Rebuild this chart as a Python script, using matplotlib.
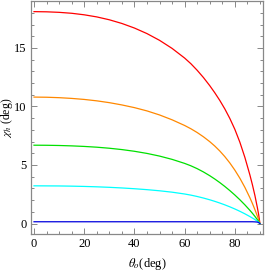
import numpy as np
import matplotlib
matplotlib.use('Agg')
import matplotlib.pyplot as plt
from matplotlib.ticker import MultipleLocator

# valores (theta_o em graus -> chi_h em graus)
theta = [0, 5, 10, 15, 20, 25, 30, 35, 40, 45, 50, 55, 60, 62.5, 65, 67.5, 70,
         72, 74, 76, 78, 80, 82, 84, 86, 87, 88, 89, 89.5, 90]

chi_red = [18.10, 18.085, 18.04, 17.96, 17.83, 17.65, 17.405, 17.09, 16.70, 16.225,
           15.65, 14.96, 14.135, 13.65, 13.09, 12.47, 11.78,
           11.175, 10.52, 9.795, 8.98, 8.05, 6.95, 5.65, 4.15, 3.315, 2.395, 1.335, 0.75, 0.0]
chi_orange = [10.80, 10.7875, 10.75, 10.6875, 10.60, 10.48, 10.325, 10.13, 9.90, 9.62,
              9.275, 8.86, 8.375, 8.094, 7.773, 7.408, 6.995,
              6.621, 6.198, 5.718, 5.176, 4.563, 3.872, 3.09, 2.204, 1.715, 1.188, 0.619, 0.316, 0.0]
chi_green = [6.69, 6.684, 6.665, 6.6325, 6.585, 6.52, 6.431, 6.316, 6.171, 5.988,
             5.761, 5.48, 5.136, 4.93, 4.686, 4.405, 4.086,
             3.804, 3.498, 3.168, 2.814, 2.436, 2.031, 1.596, 1.126, 0.876, 0.611, 0.3235, 0.17, 0.0]
chi_cyan = [3.22, 3.214, 3.208, 3.192, 3.168, 3.135, 3.092, 3.038, 2.972, 2.892,
            2.796, 2.677, 2.522, 2.425, 2.309, 2.176, 2.027,
            1.895, 1.751, 1.595, 1.426, 1.243, 1.0445, 0.829, 0.594, 0.469, 0.337, 0.19, 0.10, 0.0]
chi_blue = [0.15, 0.15, 0.15, 0.15, 0.15, 0.15, 0.15, 0.15, 0.15, 0.15,
            0.15, 0.15, 0.15, 0.15, 0.15, 0.15, 0.15,
            0.15, 0.15, 0.15, 0.15, 0.15, 0.15, 0.15, 0.15, 0.15, 0.14, 0.12, 0.08, 0.0]

series = [
    (chi_red, '#ff0000'),
    (chi_orange, '#ff8800'),
    (chi_green, '#00e000'),
    (chi_cyan, '#00ffff'),
    (chi_blue, '#0000dd'),
]

plt.rcParams['font.family'] = ['Liberation Serif', 'DejaVu Serif']
plt.rcParams['mathtext.fontset'] = 'stix'

fig = plt.figure(figsize=(2.66, 2.76), dpi=100)
ax = fig.add_axes([0.1165, 0.152, 0.872, 0.844])

for valores, cor in series:
    ax.plot(theta, valores, color=cor, linewidth=0.9)

ax.set_xlim(-1.2, 91.2)
ax.set_ylim(-0.9, 19.0)

ax.xaxis.set_major_locator(MultipleLocator(20))
ax.xaxis.set_minor_locator(MultipleLocator(5))
ax.yaxis.set_major_locator(MultipleLocator(5))
ax.yaxis.set_minor_locator(MultipleLocator(1))

ax.tick_params(which='both', direction='in', top=True, right=True,
               color='#888888', width=0.7, labelsize=9, pad=3)
ax.tick_params(which='major', length=4)
ax.tick_params(which='minor', length=2)

for s in ax.spines.values():
    s.set_color('#888888')
    s.set_linewidth(0.9)

ax.set_xlabel(r'$\theta_o$(deg)', fontsize=9, labelpad=4)
ax.set_ylabel(r'$\chi_h$ (deg)', fontsize=8.5, va='center')
ax.yaxis.set_label_coords(-0.102, 0.5)

fig.savefig('out.png', dpi=100)
